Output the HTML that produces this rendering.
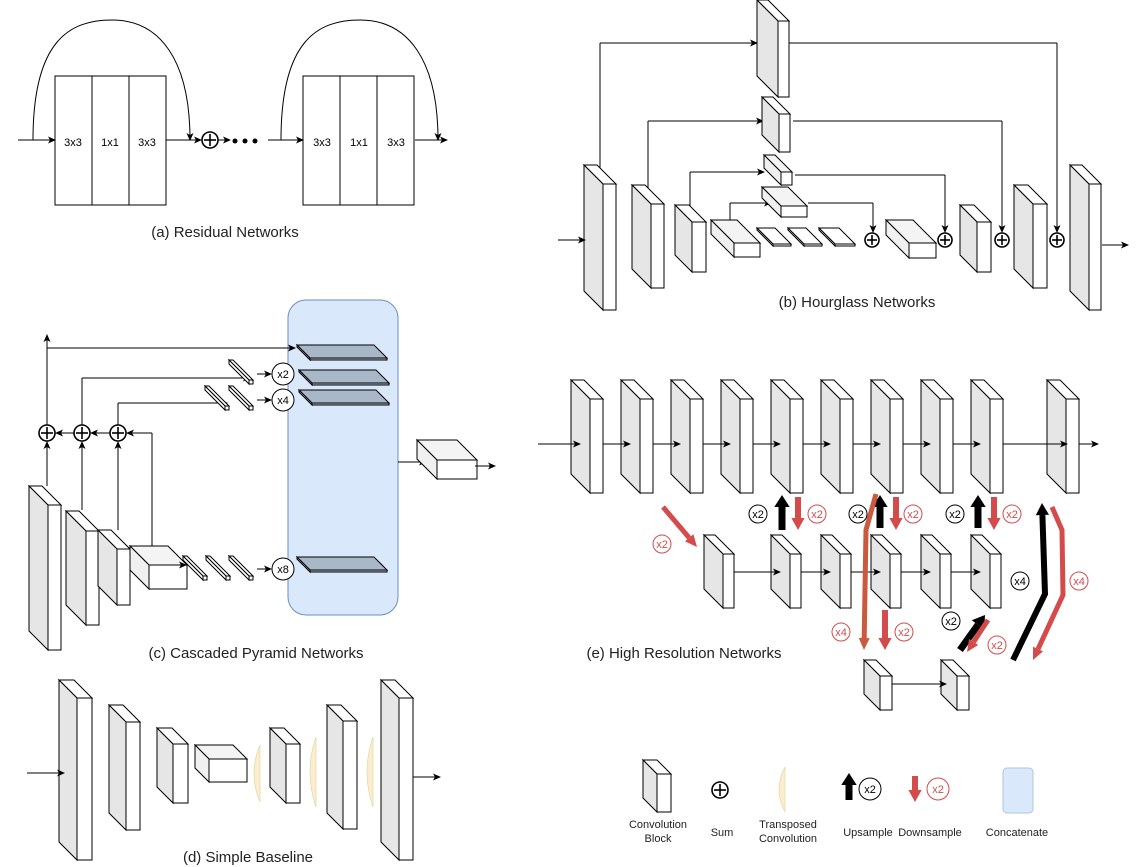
<!DOCTYPE html>
<html><head><meta charset="utf-8"><style>
html,body{margin:0;padding:0;background:#fff;}
svg{display:block;font-family:"Liberation Sans",sans-serif;}
</style></head><body>
<svg id="s" width="1138" height="867" viewBox="0 0 1138 867" xmlns="http://www.w3.org/2000/svg">
<defs>
<marker id="ah" markerWidth="8" markerHeight="8" refX="7" refY="4" orient="auto" markerUnits="userSpaceOnUse"><path d="M0,0.5 L8,4 L0,7.5 L2,4 z" fill="#000"/></marker>
</defs>
<rect width="1138" height="867" fill="#fff"/>
<rect x="288" y="300" width="110" height="315" rx="18" fill="#dae8fc" stroke="#6c8ebf" stroke-width="1"/>
<g id="g" stroke="#000" stroke-width="1" fill="none"></g>
<g font-size="11" fill="#000" text-anchor="middle">
<text x="73" y="146">3x3</text><text x="110" y="146">1x1</text><text x="147" y="146">3x3</text>
<text x="322" y="146">3x3</text><text x="359" y="146">1x1</text><text x="396" y="146">3x3</text>
</g>
<g font-size="15" fill="#222" text-anchor="middle">
<text x="225" y="237">(a) Residual Networks</text>
<text x="857" y="307">(b) Hourglass Networks</text>
<text x="256" y="658">(c) Cascaded Pyramid Networks</text>
<text x="248" y="862">(d) Simple Baseline</text>
<text x="684" y="658">(e) High Resolution Networks</text>
</g>
<g font-size="11" fill="#222" text-anchor="middle">
<text x="658" y="828">Convolution</text><text x="658" y="842">Block</text>
<text x="722" y="836">Sum</text>
<text x="788" y="828">Transposed</text><text x="788" y="842">Convolution</text>
<text x="868" y="836">Upsample</text>
<text x="930" y="836">Downsample</text>
<text x="1017" y="836">Concatenate</text>
</g>
<g id="t" font-size="11" text-anchor="middle"></g>
</svg>
<script>
var g=document.getElementById('g'),T=document.getElementById('t');
var NS='http://www.w3.org/2000/svg';
function el(n,a,p){var e=document.createElementNS(NS,n);for(var k in a)e.setAttribute(k,a[k]);(p||g).appendChild(e);return e;}
function P(pts,fill,sw){return el('polygon',{points:pts.map(function(p){return p.join(',')}).join(' '),fill:fill,'stroke-width':sw||1});}
function L(x1,y1,x2,y2,arr){var a={x1:x1,y1:y1,x2:x2,y2:y2};if(arr)a['marker-end']='url(#ah)';return el('line',a);}
function blk(x,y,d,fw,h,sideFill){
 P([[x,y],[x+fw,y],[x+fw+d,y+d],[x+d,y+d]],'#fff');
 P([[x,y],[x+d,y+d],[x+d,y+d+h],[x,y+h]],sideFill||'#e6e6e6');
 el('rect',{x:x+d,y:y+d,width:fw,height:h,fill:'#fff'});
}
function cub(x,y,d,fw,fh){
 P([[x,y],[x+fw,y],[x+fw+d,y+d],[x+d,y+d]],'#f4f4f4');
 P([[x,y],[x+d,y+d],[x+d,y+d+fh],[x,y+fh]],'#f0f0f0');
 el('rect',{x:x+d,y:y+d,width:fw,height:fh,fill:'#fff'});
}
function slab(x,y,d,w,th,fill){
 P([[x,y],[x+w,y],[x+w+d,y+d],[x+d,y+d]],fill||'#fff');
 P([[x+d,y+d],[x+w+d,y+d],[x+w+d,y+d+th],[x+d,y+d+th]],fill||'#fff');
 P([[x,y],[x+d,y+d],[x+d,y+d+th],[x,y+th]],fill||'#fff');
}
function sum(x,y,r){r=r||7;el('circle',{cx:x,cy:y,r:r,fill:'#fff','stroke-width':1.6});L(x-r+2,y,x+r-2,y).setAttribute('stroke-width',1.6);L(x,y-r+2,x,y+r-2).setAttribute('stroke-width',1.6);}
function circ(x,y,r,txt,col){el('circle',{cx:x,cy:y,r:r,fill:'#fff',stroke:col||'#000'});var t=el('text',{x:x,y:y+4,fill:col||'#000'},T);t.textContent=txt;}
function thick(pts,col,w){
 var n=pts.length,a=pts[n-2],b=pts[n-1],dx=b[0]-a[0],dy=b[1]-a[1],l=Math.hypot(dx,dy),ux=dx/l,uy=dy/l;
 var hl=12,hw=w*1.1;
 var bx=b[0]-ux*hl,by=b[1]-uy*hl;
 var p=pts.slice(0,n-1).concat([[bx,by]]);
 el('polyline',{points:p.map(function(q){return q.join(',')}).join(' '),stroke:col,'stroke-width':w,fill:'none','stroke-linejoin':'miter'});
 P([[b[0],b[1]],[bx-uy*hw,by+ux*hw],[bx+uy*hw,by-ux*hw]],col,0).setAttribute('stroke','none');
}
var RED='#d44b4b';

/* (a) */
[55,303].forEach(function(x){el('rect',{x:x,y:76,width:111,height:129,fill:'#fff'});L(x+37,76,x+37,205);L(x+74,76,x+74,205);});
L(18,140,55,140,1);
el('path',{d:'M33,140 C33,40 70,20 112,20 C160,20 190,60 190,140','marker-end':'url(#ah)'});
L(166,140,201,140,1);sum(210,140,8);L(218,140,230,140,1);
[235,245,255].forEach(function(x){el('circle',{cx:x,cy:141,r:2.5,fill:'#000',stroke:'none'});});
L(268,140,303,140,1);
el('path',{d:'M281,140 C281,40 318,20 360,20 C408,20 438,60 438,140','marker-end':'url(#ah)'});
L(415,140,447,140,1);

/* (b) */
L(600,170,600,43);L(600,43,757,43,1);
L(789,43,1057,43);L(1057,43,1057,232,1);
L(648,190,648,121);L(648,121,763,121,1);
L(793,121,1002,121);L(1002,121,1002,232,1);
L(690,210,690,172);L(690,172,764,172,1);
L(795,175,945,175);L(945,175,945,232,1);
L(730,222,730,203);L(730,203,771,203,1);
L(808,203,873,203);L(873,203,873,232,1);
blk(584,165,19,13,126);
blk(632,185,19,13,84);
blk(675,205,17,14,50);
blk(757,0,21,11,76);
blk(762,97,17,11,38);
cub(764,155,17,11,13);
cub(762,187,19,26,11);
cub(711,220,23,26,14);
slab(757,228,16,18,2,'#fff');slab(788,228,16,18,2,'#fff');slab(819,228,16,20,2,'#fff');
sum(872,240,7);
cub(886,220,23,27,15);
sum(945,240,7);
blk(960,205,17,14,50);
sum(1002,240,7);
blk(1014,185,19,14,84);
sum(1057,240,7);
blk(1070,165,19,12,126);
L(558,240,585,240,1);L(1102,245,1128,245,1);

/* (c) */
L(47,486,47,335,1);L(47,348,295,348,1);
L(47,486,47,442,1);
L(82,510,82,442,1);L(82,426,82,378);L(82,378,250,378,1);
L(118,530,118,442,1);L(118,426,118,403);L(118,403,227,403,1);
L(152,546,152,433);L(152,433,127,433,1);
L(110,433,91,433,1);L(74,433,56,433,1);
sum(47,433,8);sum(82,433,8);sum(118,433,8);
blk(29,486,19,13,145);
blk(66,511,20,13,94);
blk(98,530,19,13,56);
cub(130,546,19,38,24);
L(175,565,186,565,1);
slab(229,360,20,4,4);slab(205,386,20,4,4);slab(229,386,20,4,4);
slab(183,556,20,4,4);slab(206,556,20,4,4);slab(229,556,20,4,4);
L(257,374,271,374,1);L(257,400,271,400,1);L(257,569,271,569,1);
circ(283,374,11,'x2');circ(283,400,11,'x4');circ(283,569,11,'x8');
slab(297,345,13,77,2,'#a9b8c8');slab(299,370,13,77,2,'#a9b8c8');slab(299,390,13,77,2,'#a9b8c8');slab(297,557,13,77,2,'#a9b8c8');
L(398,462,426,462,1);
cub(417,440,20,40,19);
L(475,466,495,466,1);

/* (d) */
blk(59,680,18,15,162);
blk(109,705,17,14,108);
blk(157,728,16,15,59);
cub(195,745,14,38,23);
function tconv(x,y,h){el('path',{d:'M'+(x+8)+','+y+' Q'+(x-4)+','+(y+h/2)+' '+(x+8)+','+(y+h)+' L'+(x+8)+','+y+' z',fill:'#fbeed0',stroke:'#e8d9a8','stroke-width':0.8});}
tconv(252,745,57);
blk(270,728,16,14,59);
tconv(308,737,70);
blk(327,705,16,14,108);
tconv(365,737,70);
blk(381,680,18,14,162);
L(27,773,64,773,1);L(413,777,440,777,1);

/* (e) */
var xs=[571,621,671,721,771,821,871,921,971,1047];
xs.forEach(function(x){blk(x,380,19,13,94);});
L(538,444,580,444,1);
for(var i=0;i<9;i++){L(xs[i]+32,444,xs[i+1]+(i==8?20:9),444,1);}
L(1079,444,1098,444,1);
var r2=[704,771,821,871,921,971];
r2.forEach(function(x){blk(x,535,19,11,54);});
for(var i=0;i<5;i++){L(r2[i]+30,572,r2[i+1]+9,572,1);}
blk(864,660,16,12,34);blk(941,660,16,12,34);
L(892,684,946,684,1);
thick([[663,507],[697,547]],RED,5);
thick([[782,530],[782,495]],'#000',7);
thick([[798,497],[798,530]],RED,6);
thick([[880,528],[880,495]],'#000',7);
thick([[896,497],[896,530]],RED,6);
thick([[978,528],[978,495]],'#000',7);
thick([[994,497],[994,530]],RED,6);
thick([[876,494],[866,530],[864,650]],'#c9593f',5);
thick([[885,610],[885,650]],RED,6);
thick([[960,650],[985,615]],'#000',7);
thick([[988,620],[967,652]],RED,5);
thick([[1013,660],[1045,594],[1042,503]],'#000',6);
thick([[1052,507],[1062,530],[1063,595],[1033,660]],RED,5);
circ(758,514,9,'x2');circ(858,514,9,'x2');circ(955,514,9,'x2');
circ(817,514,9,'x2',RED);circ(913,514,9,'x2',RED);circ(1012,514,9,'x2',RED);
circ(662,544,9,'x2',RED);
circ(1020,581,9,'x4');circ(1079,581,9,'x4',RED);
circ(841,632,9,'x4',RED);circ(904,632,9,'x2',RED);
circ(951,621,9,'x2');circ(997,645,9,'x2',RED);

/* legend */
blk(643,760,14,14,38);
sum(720,790,8);
tconv(777,767,45);
thick([[849,800],[849,773]],'#000',7);circ(870,789,11,'x2');
thick([[915,776],[915,802]],RED,6);circ(938,789,11,'x2',RED);
el('rect',{x:1003,y:768,width:30,height:45,rx:4,fill:'#dae8fc',stroke:'#b0c4de'});
</script>
</body></html>
